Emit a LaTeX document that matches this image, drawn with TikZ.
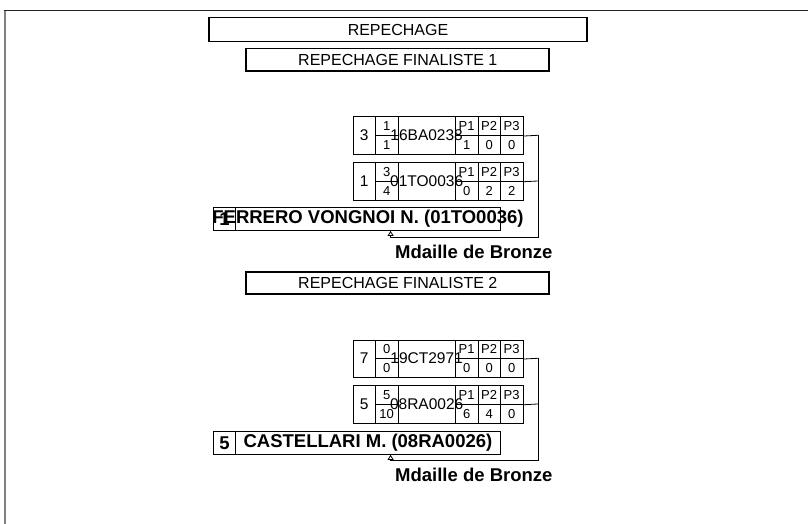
\documentclass[tikz,border=0pt]{standalone}
\usepackage{fontspec}
\setmainfont{Liberation Sans}
\usetikzlibrary{arrows.meta}
\begin{document}
\begin{tikzpicture}[x=1pt,y=-1pt,
  title/.style={draw, line width=1.8pt, inner sep=0, font=\fontsize{16}{16}\selectfont},
  cell/.style={draw, line width=0.8pt, inner sep=0, minimum width=22.5pt, minimum height=37.5pt, anchor=north west},
  half/.style={cell, minimum height=18.75pt},
  txt/.style={inner sep=0, font=\fontsize{15.5}{15.5}\selectfont},
  small/.style={font=\fontsize{13}{13}\selectfont},
  big/.style={inner sep=0, font=\fontsize{18.5}{18.5}\selectfont\bfseries},
  link/.style={line width=0.8pt},
  tip/.style={-{Triangle[open,length=5pt,width=6pt]}}]
\useasboundingbox (0,0) rectangle (808,524);
\draw[line width=1.5pt, black!85] (4,10.7) -- (808,10.7);
\draw[line width=1.5pt, gray] (5.2,10.7) -- (5.2,524);

\newcommand\matchrow[9]{%
  \node[cell, txt] (#1s) at (352.5,#2) {#3};
  \node[half, small] (#1u) at (375,#2) {#4};
  \node[half, small] (#1d) at (375,{#2+18.75}) {#5};
  \node[cell, minimum width=57.5pt] (#1n) at (397.5,#2) {};
  \node[txt] (#1c) at (#1n.center) {#6};
  \node[half, small] (#1p) at (455,#2) {P1};
  \node[half, small] (#1q) at (477.5,#2) {P2};
  \node[half, small] (#1r) at (500,#2) {P3};
  \node[half, small] (#1x) at (455,{#2+18.75}) {#7};
  \node[half, small] (#1y) at (477.5,{#2+18.75}) {#8};
  \node[half, small] (#1z) at (500,{#2+18.75}) {#9};
  \coordinate (#1e) at (538.5,{#2+18.75});
  \draw[link] (#1r.south east) -- (#1e);
}

\node[title, minimum width=378.7pt, minimum height=24pt] (t0) at (398,29.5) {REPECHAGE};

% ---- Finaliste 1
\node[title, minimum width=303pt, minimum height=22.7pt] (f1) at (397.8,59.9) {REPECHAGE FINALISTE 1};
\matchrow{ma}{116.5}{3}{1}{1}{16BA0238}{1}{0}{0}
\matchrow{mb}{162.2}{1}{3}{4}{01TO0036}{0}{2}{2}
\node[cell, big, minimum height=23.4pt] (w1s) at (212.8,206.7) {1};
\node[cell, minimum width=264.5pt, minimum height=23.4pt] (w1n) at (235.3,206.7) {};
\node[big] (w1t) at (w1n.center) {FERRERO VONGNOI N. (01TO0036)};
\coordinate (k1) at (538.5,237.7);
\coordinate (k1b) at (390.6,237.7);
\draw[link] (mae) -- (k1);
\draw[link, tip] (k1) -- (k1b) -- (k1b |- w1n.south);
\node[big, anchor=west] (br1) at (395,251.5) {Mdaille de Bronze};

% ---- Finaliste 2
\node[title, minimum width=303pt, minimum height=22.7pt] (f2) at (397.8,283) {REPECHAGE FINALISTE 2};
\matchrow{mc}{339.5}{7}{0}{0}{19CT2971}{0}{0}{0}
\matchrow{md}{385.2}{5}{5}{10}{08RA0026}{6}{4}{0}
\node[cell, big, minimum height=23.2pt] (w2s) at (212.8,430.8) {5};
\node[cell, minimum width=264.5pt, minimum height=23.2pt] (w2n) at (235.3,430.8) {};
\node[big] (w2t) at (w2n.center) {CASTELLARI M. (08RA0026)};
\coordinate (k2) at (538.5,460.8);
\coordinate (k2b) at (390.6,460.8);
\draw[link] (mce) -- (k2);
\draw[link, tip] (k2) -- (k2b) -- (k2b |- w2n.south);
\node[big, anchor=west] (br2) at (395,475) {Mdaille de Bronze};
\end{tikzpicture}
\end{document}
